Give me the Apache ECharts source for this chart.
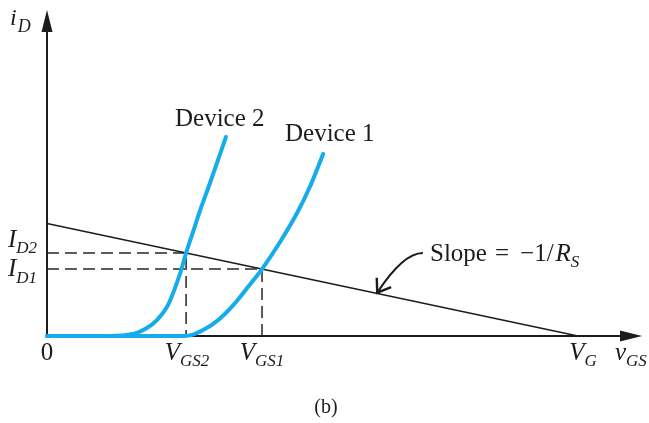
<!DOCTYPE html>
<html>
<head>
<meta charset="utf-8">
<title>i_D versus v_GS for two devices with bias line</title>
<script src="https://cdn.jsdelivr.net/npm/echarts@6/dist/echarts.min.js"></script>
<style>
  html, body { margin: 0; padding: 0; background: #ffffff; }
  #chart { width: 649px; height: 423px; }
</style>
</head>
<body>
<div id="chart"></div>
<script>
// Transfer characteristics of two devices and the source-resistor bias line.
// Units: v_GS in volts, i_D in arbitrary current units (R_S taken as 1).

const xMax = 11;          // end of the v_GS axis
const yMax = 28;          // end of the i_D axis

const vG = 10;                          // V_G, where the bias line meets the v_GS axis
const biasLine = [[0, 10], [10, 0]];    // slope = -1/R_S

const vGS2 = 2.62, iD2 = 7.38;          // operating point, device 2
const vGS1 = 4.05, iD1 = 5.95;          // operating point, device 1

const device2 = [
  [0, 0], [0.9, 0], [1.19, 0], [1.62, 0.18], [1.88, 0.71], [2.07, 1.42],
  [2.26, 2.58], [2.39, 4.0], [2.51, 5.6], [2.62, 7.38], [2.75, 9.24],
  [2.88, 11.11], [3.07, 13.6], [3.22, 15.64], [3.37, 17.69]
];

const device1 = [
  [0, 0], [2.3, 0], [2.58, 0], [2.75, 0.12], [2.94, 0.53], [3.13, 1.07],
  [3.35, 1.96], [3.56, 3.02], [3.8, 4.44], [4.05, 5.95], [4.39, 8.36],
  [4.71, 10.93], [4.95, 13.24], [5.2, 16.18]
];

// Pointer from the slope note down onto the bias line
const slopeArrow = { from: [7.08, 7.38], bend: [6.71, 7.38], to: [6.22, 3.85] };

const serif = '"Liberation Serif", "Times New Roman", Times, serif';
const ink = '#1c1c1c';
const cyan = '#14ACEA';

const chart = echarts.init(document.getElementById('chart'), null, { renderer: 'canvas' });

function axisStyle(min, max) {
  return {
    type: 'value', min: min, max: max,
    axisLine: {
      show: true, onZero: false,
      lineStyle: { color: ink, width: 2 },
      symbol: ['none', 'triangle'], symbolSize: [11, 22]
    },
    axisTick: { show: false },
    axisLabel: { show: false },
    splitLine: { show: false }
  };
}

function deviceCurve(name, data) {
  return {
    name: name, type: 'line', data: data,
    symbol: 'none', showSymbol: false,
    smooth: 0.3,
    lineStyle: { color: cyan, width: 4, cap: 'round', join: 'round' },
    z: 5, silent: true, clip: false
  };
}

function guide(data) {
  return {
    type: 'line', data: data, symbol: 'none', showSymbol: false,
    lineStyle: { color: '#262626', width: 1.5, type: [12, 6] },
    z: 3, silent: true
  };
}

chart.setOption({
  animation: false,
  backgroundColor: '#ffffff',
  grid: { left: 47, right: 18, top: 21, bottom: 87, outerBoundsMode: 'none' },
  xAxis: axisStyle(0, xMax),
  yAxis: axisStyle(0, yMax),
  series: [
    {
      name: 'bias line', type: 'line', data: biasLine,
      symbol: 'none', showSymbol: false,
      lineStyle: { color: ink, width: 1.5 }, z: 4, silent: true
    },
    guide([[0, iD2], [vGS2, iD2], [vGS2, 0]]),
    guide([[0, iD1], [vGS1, iD1], [vGS1, 0]]),
    deviceCurve('Device 2', device2),
    deviceCurve('Device 1', device1)
  ]
});

// ---- text with italic symbols and subscripts ----
const meter = document.createElement('canvas').getContext('2d');
function fontOf(p) { return (p.italic ? 'italic ' : '') + p.size + 'px ' + serif; }

// parts: [{t, size, italic, dy, gap}], placed left to right on a shared baseline
function mathText(parts, x, baseline, align) {
  const widths = parts.map(function (p) { meter.font = fontOf(p); return meter.measureText(p.t).width; });
  let total = 0;
  parts.forEach(function (p, i) { total += (p.gap || 0) + widths[i]; });
  let cx = align === 'center' ? x - total / 2 : (align === 'right' ? x - total : x);
  const out = [];
  parts.forEach(function (p, i) {
    cx += (p.gap || 0);
    const base = baseline + (p.dy || 0);
    out.push({
      type: 'text', silent: true, z: 10,
      x: cx, y: base - 0.3375 * p.size,
      style: { text: p.t, font: fontOf(p), fill: ink, align: 'left', verticalAlign: 'middle' }
    });
    cx += widths[i];
  });
  return out;
}

const M = 25, S = 17;
const px = function (pt) { return chart.convertToPixel({ gridIndex: 0 }, pt); };
const origin = px([0, 0]);
const pG2 = px([vGS2, iD2]);
const pG1 = px([vGS1, iD1]);
const pVG = px([vG, 0]);
const labelBase = origin[1] + 26;

let g = [];
g = g.concat(mathText([{ t: 'i', size: 24, italic: true }, { t: 'D', size: 18, italic: true, dy: 6, gap: 1 }], 10, 27, 'left'));
g = g.concat(mathText([{ t: 'I', size: M, italic: true }, { t: 'D2', size: S, italic: true, dy: 5 }], 8, pG2[1] - 4, 'left'));
g = g.concat(mathText([{ t: 'I', size: M, italic: true }, { t: 'D1', size: S, italic: true, dy: 6 }], 8, pG1[1] + 9, 'left'));
g = g.concat(mathText([{ t: '0', size: M }], origin[0], labelBase, 'center'));
g = g.concat(mathText([{ t: 'V', size: M, italic: true }, { t: 'GS2', size: S, italic: true, dy: 5 }], pG2[0] + 1, labelBase, 'center'));
g = g.concat(mathText([{ t: 'V', size: M, italic: true }, { t: 'GS1', size: S, italic: true, dy: 5 }], pG1[0], labelBase, 'center'));
g = g.concat(mathText([{ t: 'V', size: M, italic: true }, { t: 'G', size: S, italic: true, dy: 5 }], pVG[0] + 5, labelBase, 'center'));
g = g.concat(mathText([{ t: 'v', size: M, italic: true }, { t: 'GS', size: S, italic: true, dy: 5 }], 615, labelBase, 'left'));
g = g.concat(mathText([{ t: 'Device 2', size: M }], 175, 128, 'left'));
g = g.concat(mathText([{ t: 'Device 1', size: M }], 285, 143, 'left'));
g = g.concat(mathText([
  { t: 'Slope', size: M },
  { t: '=', size: M, gap: 8 },
  { t: '\u22121/', size: M, gap: 11 },
  { t: 'R', size: M, italic: true, gap: 2 },
  { t: 'S', size: S, italic: true, dy: 5 }
], 430, 263, 'left'));
g = g.concat(mathText([{ t: '(b)', size: 20 }], 326, 414, 'center'));

// curved pointer with an open arrowhead
const a0 = px(slopeArrow.from), a1 = px(slopeArrow.bend), a2 = px(slopeArrow.to);
g.push({
  type: 'bezierCurve', silent: true, z: 9,
  shape: { x1: a0[0], y1: a0[1], cpx1: a1[0], cpy1: a1[1], x2: a2[0], y2: a2[1] },
  style: { stroke: ink, lineWidth: 2.2, fill: null }
});
(function () {
  let dx = a1[0] - a2[0], dy = a1[1] - a2[1];
  const len = Math.sqrt(dx * dx + dy * dy); dx /= len; dy /= len;
  const ang = 35 * Math.PI / 180, arm = 15;
  const c = Math.cos(ang), s = Math.sin(ang);
  const r1 = [dx * c - dy * s, dx * s + dy * c];
  const r2 = [dx * c + dy * s, -dx * s + dy * c];
  g.push({
    type: 'polyline', silent: true, z: 9,
    shape: { points: [[a2[0] + r1[0] * arm, a2[1] + r1[1] * arm], [a2[0], a2[1]], [a2[0] + r2[0] * arm, a2[1] + r2[1] * arm]] },
    style: { stroke: ink, lineWidth: 2.4, fill: null, lineJoin: 'miter' }
  });
})();

chart.setOption({ graphic: g });
</script>
</body>
</html>
